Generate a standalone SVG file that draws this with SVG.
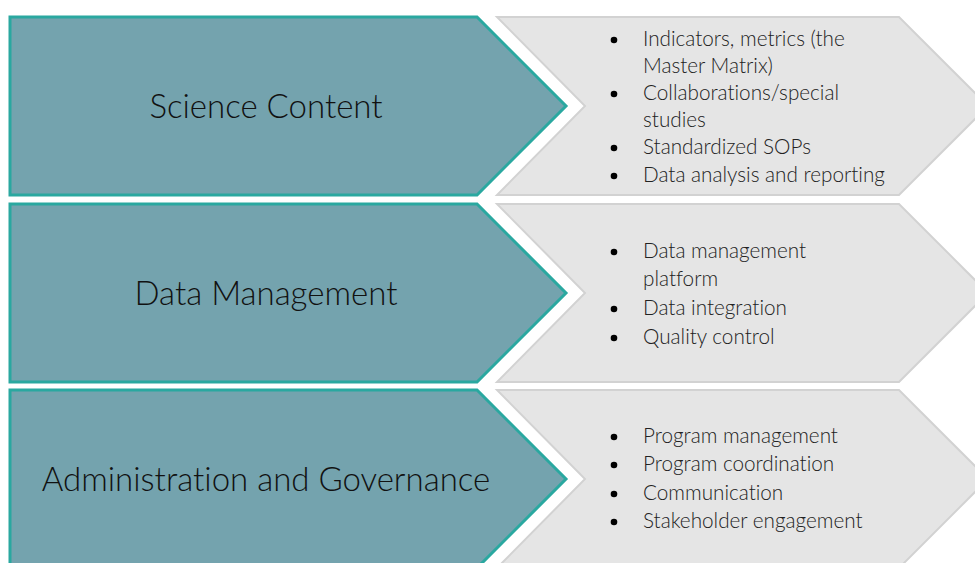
<svg xmlns="http://www.w3.org/2000/svg" width="975" height="563" viewBox="0 0 975 563">
<style>
.head{fill:#74A3AE;stroke:#2AA8A0;stroke-width:3}
.body{fill:#E5E5E5;stroke:#D2D2D2;stroke-width:2}
.title{font-family:Lato,"Open Sans",sans-serif;font-weight:300;font-size:33px;fill:#111;text-anchor:middle;font-variant-ligatures:none}
.item{font-family:Lato,"Open Sans",sans-serif;font-weight:300;font-size:20.7px;fill:#222;font-variant-ligatures:none}
.dot{fill:#000}
</style>
<rect width="975" height="563" fill="#fff"/>
<g id="connectors"></g>
<g id="row1">
<polygon class="body" points="497,17 899,17 988,106 899,195 497,195 585,106"/>
<polygon class="head" points="10,17 477,17 566,106 477,195 10,195"/>
<text class="title" x="266" y="118">Science Content</text>
<circle class="dot" cx="614" cy="40" r="3.3"/>
<text class="item" x="643" y="46">Indicators, metrics (the</text>
<text class="item" x="643" y="73">Master Matrix)</text>
<circle class="dot" cx="614" cy="94" r="3.3"/>
<text class="item" x="643" y="100">Collaborations/special</text>
<text class="item" x="643" y="127">studies</text>
<circle class="dot" cx="614" cy="148" r="3.3"/>
<text class="item" x="643" y="154">Standardized SOPs</text>
<circle class="dot" cx="614" cy="176" r="3.3"/>
<text class="item" x="643" y="182">Data analysis and reporting</text>
</g>
<g id="row2">
<polygon class="body" points="497,204 899,204 988,293 899,382 497,382 585,293"/>
<polygon class="head" points="10,204 477,204 566,293 477,382 10,382"/>
<text class="title" x="266" y="305">Data Management</text>
<circle class="dot" cx="614" cy="252" r="3.3"/>
<text class="item" x="643" y="258">Data management</text>
<text class="item" x="643" y="286">platform</text>
<circle class="dot" cx="614" cy="309" r="3.3"/>
<text class="item" x="643" y="315">Data integration</text>
<circle class="dot" cx="614" cy="338" r="3.3"/>
<text class="item" x="643" y="344">Quality control</text>
</g>
<g id="row3">
<polygon class="body" points="497,390 899,390 988,479 899,568 497,568 585,479"/>
<polygon class="head" points="10,390 477,390 566,479 477,568 10,568"/>
<text class="title" x="266" y="491">Administration and Governance</text>
<circle class="dot" cx="614" cy="437" r="3.3"/>
<text class="item" x="643" y="443">Program management</text>
<circle class="dot" cx="614" cy="465" r="3.3"/>
<text class="item" x="643" y="471">Program coordination</text>
<circle class="dot" cx="614" cy="494" r="3.3"/>
<text class="item" x="643" y="500">Communication</text>
<circle class="dot" cx="614" cy="522" r="3.3"/>
<text class="item" x="643" y="528">Stakeholder engagement</text>
</g>
</svg>
